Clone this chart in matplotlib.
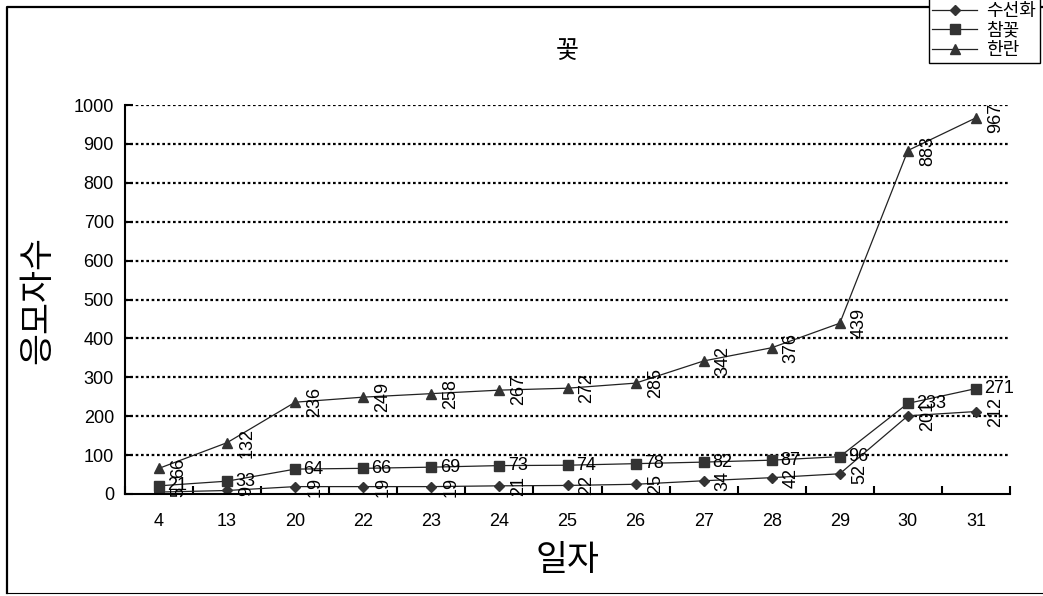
import matplotlib
matplotlib.use("Agg")
import matplotlib.pyplot as plt
from matplotlib.lines import Line2D

plt.rcParams["font.family"] = ["Liberation Sans", "Noto Sans CJK KR", "DejaVu Sans"]

# daily counts per flower
days = ["4", "13", "20", "22", "23", "24", "25", "26", "27", "28", "29", "30", "31"]
suseonhwa = [5, 9, 19, 19, 19, 21, 22, 25, 34, 42, 52, 201, 212]
chamkkot = [21, 33, 64, 66, 69, 73, 74, 78, 82, 87, 96, 233, 271]
hanran = [66, 132, 236, 249, 258, 267, 272, 285, 342, 376, 439, 883, 967]

fig = plt.figure(figsize=(10.43, 5.96), dpi=100)
ax = fig.add_axes([125 / 1043, 102 / 596, 885 / 1043, 389 / 596])

x = list(range(len(days)))
series = [
    ("수선화", suseonhwa, "D", 5.5, True),
    ("참꽃", chamkkot, "s", 6.5, False),
    ("한란", hanran, "^", 7.5, True),
]
for name, vals, marker, ms, rotated in series:
    ax.plot(x, vals, color="#222222", lw=0.9, marker=marker, ms=ms,
            markerfacecolor="#333333", markeredgecolor="#333333", label=name)
    for xi, v in zip(x, vals):
        if rotated:
            ax.annotate(str(v), (xi, v), xytext=(8, 0), textcoords="offset points",
                        rotation=90, ha="left", va="center", fontsize=13)
        else:
            ax.annotate(str(v), (xi, v), xytext=(6, 0), textcoords="offset points",
                        ha="left", va="center", fontsize=13)

ax.set_xlim(-0.5, len(days) - 0.5)
ax.set_ylim(0, 1000)
ax.set_yticks(range(0, 1001, 100))
ax.set_xticks([i - 0.5 for i in range(len(days) + 1)])
ax.set_xticklabels([])
ax.set_xticks(x, minor=True)
ax.set_xticklabels(days, minor=True)
ax.tick_params(axis="x", which="major", direction="in", length=6, width=1.5)
ax.tick_params(axis="x", which="minor", length=0, pad=14, labelsize=13)
ax.tick_params(axis="y", direction="in", length=6, width=1.5, pad=8, labelsize=13)

for y in range(100, 1001, 100):
    ax.axhline(y, color="black", lw=1.6, ls=(0, (1.2, 1.2)), zorder=0)

ax.spines["top"].set_visible(False)
ax.spines["right"].set_visible(False)
ax.spines["left"].set_linewidth(1.5)
ax.spines["bottom"].set_linewidth(1.5)

ax.set_title("꽃", fontsize=18, pad=34)
ax.set_ylabel("응모자수", fontsize=25, labelpad=14)
ax.set_xlabel("일자", fontsize=25, labelpad=10)

# outer chart border
fig.add_artist(Line2D([7 / 1043, 7 / 1043, 1.01], [3 / 596, 589 / 596, 589 / 596],
                      transform=fig.transFigure, color="black", lw=1.6))
fig.add_artist(Line2D([7 / 1043, 1.01], [3 / 596, 3 / 596],
                      transform=fig.transFigure, color="black", lw=0.8))

leg = fig.legend(loc="upper right", bbox_to_anchor=(1040 / 1043, 1.003),
                 prop={"family": "Noto Sans CJK KR", "size": 13},
                 handlelength=2.5, labelspacing=0.1, borderpad=0.2, handletextpad=0.5,
                 borderaxespad=0, fancybox=False, framealpha=1, edgecolor="black")
leg.get_frame().set_linewidth(1.0)

fig.savefig("out.png", dpi=100)
